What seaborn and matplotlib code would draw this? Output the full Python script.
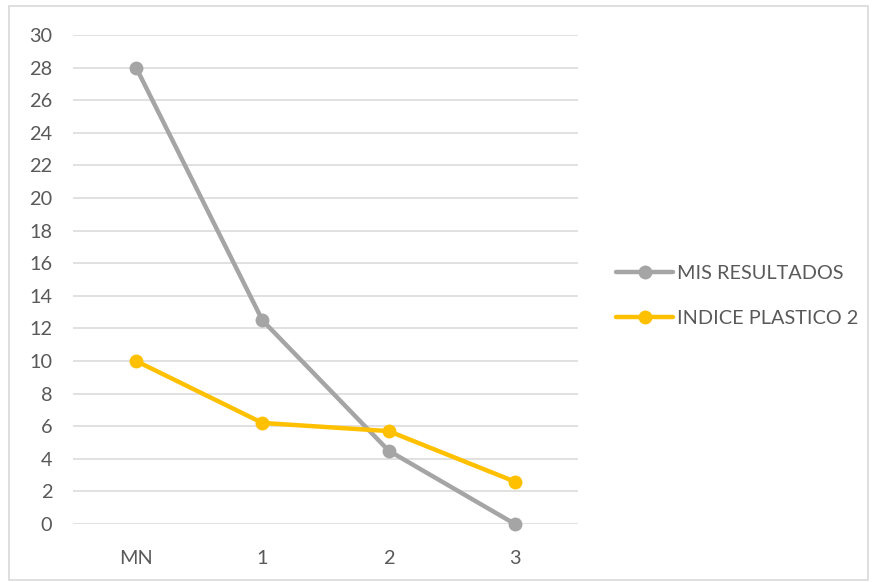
import matplotlib
matplotlib.use("Agg")
import matplotlib.pyplot as plt
from matplotlib.patches import Rectangle
import seaborn as sns
import pandas as pd

categories = ["MN", "1", "2", "3"]
mis_resultados = [28, 12.5, 4.5, 0]
indice_plastico_2 = [10, 6.2, 5.7, 2.6]
series_names = ["MIS RESULTADOS", "INDICE PLASTICO 2"]
y_ticks = list(range(0, 31, 2))

df = pd.DataFrame({
    "categoria": categories * 2,
    "valor": mis_resultados + indice_plastico_2,
    "serie": [series_names[0]] * len(categories) + [series_names[1]] * len(categories),
})

sns.set_theme(style="white")
plt.rcParams["font.family"] = ["Lato", "DejaVu Sans"]

text_color = "#595959"
grid_color = "#D9D9D9"
palette = {series_names[0]: "#A5A5A5", series_names[1]: "#FFC000"}
fs = 14.3

fig = plt.figure(figsize=(8.72, 5.82), dpi=100)
ax = fig.add_axes([73 / 872, 1 - 524 / 582, (578 - 73) / 872, (524 - 35) / 582])

sns.lineplot(
    data=df, x="categoria", y="valor", hue="serie", palette=palette,
    marker="o", markersize=10, markeredgewidth=0, linewidth=3.2,
    sort=False, ax=ax, legend=False, clip_on=False, zorder=3,
)

ax.set_xlim(-0.5, len(categories) - 0.5)
ax.set_ylim(0, 30)
ax.set_yticks(y_ticks)
ax.set_xticks(range(len(categories)))
ax.set_xticklabels(categories)
ax.set_xlabel("")
ax.set_ylabel("")
for y in y_ticks:
    ax.axhline(y, color=grid_color, linewidth=1.1, zorder=1)
for s in ax.spines.values():
    s.set_visible(False)
ax.tick_params(axis="y", length=0, pad=15, labelsize=fs, labelcolor=text_color)
ax.tick_params(axis="x", length=0, pad=19, labelsize=fs, labelcolor=text_color)

handles = [
    plt.Line2D([], [], color=palette[n], linewidth=3.2, marker="o",
               markersize=10, markeredgewidth=0)
    for n in series_names
]
fig.legend(
    handles, series_names, loc="center left",
    bbox_to_anchor=(598 / 872, 1 - 296 / 582), frameon=False,
    fontsize=fs, labelcolor=text_color, handlelength=2.9,
    handletextpad=0.2, labelspacing=1.45,
)

fig.add_artist(Rectangle((9 / 872, 2 / 582), 859 / 872, 574 / 582,
                         transform=fig.transFigure, fill=False,
                         edgecolor=grid_color, linewidth=1.2))

fig.savefig("out.png", dpi=100)
